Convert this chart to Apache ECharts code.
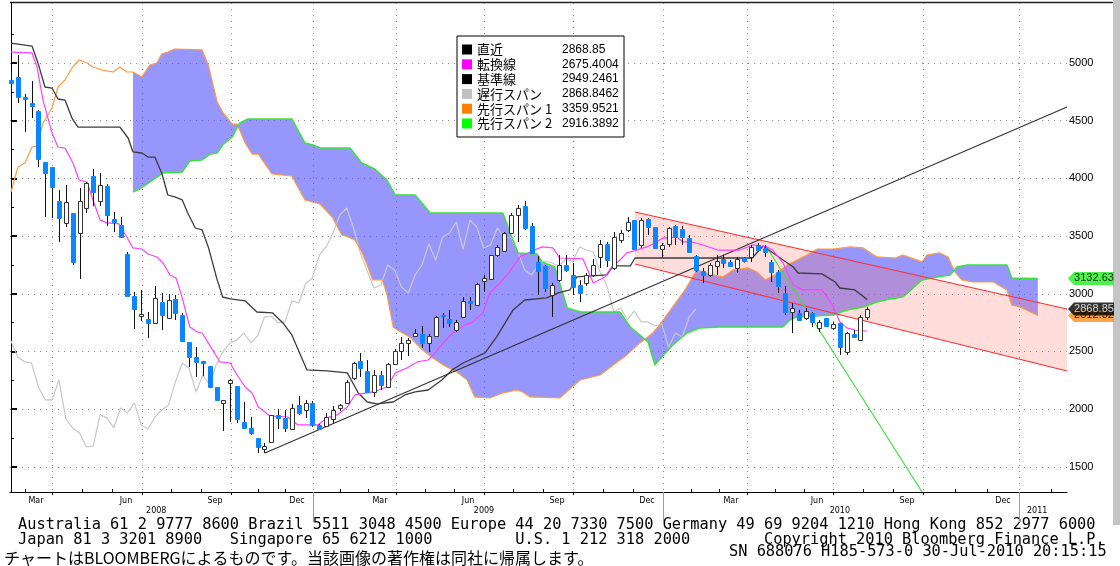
<!DOCTYPE html>
<html>
<head>
<meta charset="utf-8">
<script src="https://cdn.jsdelivr.net/npm/echarts@6/dist/echarts.min.js"></script>
<style>
  html, body { margin: 0; padding: 0; background: #fff; }
  #main { width: 1120px; height: 566px; }
</style>
</head>
<body>
<div id="main"></div>
<script>
// weekly bars, x = bar index, one bar per trading week (Feb 2008 - 30 Jul 2010)
// [open, close, low, high]
var candles = [
  [4853,4827,4749,4922],[4879,4705,4653,5069],[4705,4688,4402,4731],[4653,4627,4523,4844],
  [4584,4168,4099,4593],[4142,4047,3665,4142],[4099,3925,3657,4099],[3804,3657,3449,3899],
  [3613,3795,3579,3943],[3700,3276,3250,3700],[3527,3804,3128,3917],[3743,3960,3700,3969],
  [4021,3882,3761,4081],[3804,3943,3761,4047],[3934,3683,3587,3951],[3648,3622,3535,3709],
  [3596,3492,3483,3665],[3345,2981,2981,3362],[2981,2868,2695,3016],[2808,2825,2764,3033],
  [2782,2747,2617,2842],[2747,2964,2747,3068],[2929,2816,2686,3007],[2790,2946,2790,2998],
  [2955,2834,2773,2990],[2816,2591,2582,2834],[2582,2452,2366,2582],[2452,2409,2279,2539],
  [2418,2400,2288,2418],[2374,2192,2184,2374],[2192,2080,2071,2192],[2054,2080,1811,2080],
  [2227,2253,1889,2262],[2201,1915,1880,2201],[1889,1837,1837,2062],[1837,1794,1776,1932],
  [1750,1672,1620,1750],[1655,1681,1620,1707],[1716,1950,1716,1950],[1950,1924,1828,2002],
  [1924,1837,1802,1993],[1828,2010,1820,2045],[2036,1967,1950,2114],[1993,2054,1924,2080],
  [2054,1863,1846,2071],[1863,1828,1820,1872],[1854,1932,1846,1967],[1915,1993,1880,2028],
  [2010,2036,1984,2045],[2054,2236,2054,2253],[2270,2400,2253,2409],[2418,2357,2279,2487],
  [2331,2149,2140,2426],[2149,2296,2106,2340],[2296,2210,2166,2331],[2192,2392,2184,2400],
  [2392,2504,2383,2522],[2504,2574,2426,2626],[2574,2600,2461,2617],[2634,2660,2626,2695],
  [2652,2574,2530,2721],[2574,2634,2496,2652],[2634,2799,2634,2808],[2812,2805,2704,2834],
  [2782,2747,2712,2860],[2686,2756,2669,2773],[2799,2938,2799,2972],[2938,2920,2860,2972],
  [2903,3085,2894,3094],[3111,3137,3016,3163],[3128,3336,3128,3336],[3336,3406,3319,3423],
  [3371,3527,3362,3535],[3527,3683,3527,3700],[3683,3743,3449,3769],[3761,3570,3553,3804],
  [3587,3354,3354,3613],[3276,3198,2990,3328],[3241,3050,3016,3250],[2990,3076,2799,3094],
  [3120,3250,3102,3336],[3250,3206,3189,3336],[3163,3059,2990,3267],[3076,3007,2929,3120],
  [3094,3163,3068,3180],[3163,3250,3146,3302],[3319,3432,3224,3466],[3432,3293,3232,3449],
  [3224,3492,3206,3535],[3466,3527,3440,3553],[3553,3622,3535,3665],[3639,3388,3388,3639],
  [3423,3639,3397,3657],[3648,3579,3509,3657],[3579,3397,3397,3579],[3388,3423,3310,3440],
  [3432,3570,3406,3579],[3587,3492,3423,3596],[3560,3490,3423,3590],[3483,3362,3354,3509],
  [3328,3206,3189,3336],[3198,3163,3094,3224],[3163,3250,3146,3267],[3241,3284,3163,3336],
  [3301,3267,3224,3336],[3276,3241,3232,3293],[3224,3301,3180,3319],[3310,3280,3270,3315],
  [3319,3406,3276,3423],[3423,3379,3362,3440],[3397,3362,3319,3423],[3276,3189,3102,3293],
  [3189,3068,3007,3206],[3007,2842,2816,3068],[2842,2877,2660,2920],[2834,2773,2773,2860],
  [2790,2851,2773,2877],[2834,2756,2712,2842],[2704,2756,2669,2773],[2790,2721,2712,2790],
  [2704,2738,2686,2756],[2747,2539,2470,2747],[2496,2660,2470,2669],[2652,2626,2617,2686],
  [2600,2799,2600,2816],[2799,2868.85,2773,2886]
];

// [bar index, value]
var tenkan = [
  [0,5095],[3.07,5087],[3.8,4965],[4.67,4679],[5.99,4393],[6.86,4272],[7.88,4263],[9.05,4133],
  [9.93,3986],[11.1,3969],[11.97,3813],[12.99,3640],[14.0,3614],[15.8,3605],[16.9,3492],[17.8,3397],
  [19.1,3388],[20.0,3345],[21.3,3319],[22.2,3267],[23.2,3163],[24.1,3137],[25.0,2964],[26.1,2712],
  [27.2,2669],[27.9,2660],[28.8,2574],[30.5,2409],[32.0,2400],[33.0,2296],[34.2,2192],[35.2,2140],
  [36.1,2019],[37.8,1941],[40.4,1932],[41.9,1863],[44.8,1863],[46.1,1924],[47.6,1950],[49.1,2019],
  [50.2,2123],[52.8,2149],[54.9,2192],[56.1,2314],[57.8,2357],[59.3,2409],[60.9,2426],[61.9,2487],
  [63.1,2574],[64.5,2660],[66.0,2721],[67.4,2756],[68.9,2834],[69.9,3007],[71.4,3094],[72.8,3189],
  [74.3,3319],[75.8,3362],[77.5,3406],[79.1,3397],[80.1,3310],[83.5,3302],[85.0,3094],[86.7,3146],
  [87.7,3232],[88.9,3293],[89.9,3354],[91.4,3379],[92.8,3406],[94.0,3440],[95.2,3483],[97.2,3492],
  [98.1,3449],[99.4,3449],[101.0,3423],[103.2,3379],[106.4,3379],[108.3,3423],[110.4,3406],[111.2,3379],
  [112.7,3267],[114.2,3076],[115.6,3033],[118.4,3033],[119.9,2903],[121.0,2756],[122.0,2704],[123.2,2686],
  [125,2675.4]
];

var kijun = [
  [0,5173],[3.07,5147],[3.94,5000],[4.96,4792],[5.99,4783],[6.86,4688],[7.88,4679],[8.9,4523],
  [9.78,4445],[15.9,4445],[17.1,4350],[17.8,4229],[19.1,4220],[20.0,4185],[21.0,4185],[22.0,4047],
  [22.9,3856],[23.9,3839],[25.0,3813],[25.8,3700],[26.9,3570],[27.9,3553],[28.8,3406],[30.1,3120],
  [30.9,2972],[32.0,2955],[34.2,2938],[35.9,2842],[38.2,2834],[39.7,2747],[41.0,2643],[43.2,2340],
  [46.1,2331],[49.1,2314],[50.7,2140],[52.0,2062],[53.4,2045],[55.8,2062],[57.5,2123],[59.0,2149],
  [60.9,2166],[62.9,2253],[64.4,2340],[66.0,2400],[69.2,2487],[70.9,2626],[72.4,2773],[73.3,2860],
  [75.0,2946],[78.2,2964],[79.9,3007],[81.6,3033],[82.6,3146],[87.0,3163],[87.9,3241],[90.4,3241],
  [91.1,3310],[108.2,3310],[109.8,3414],[112.7,3293],[114.2,3232],[114.9,3180],[118.4,3172],[120.3,3102],
  [121.0,3050],[123.2,3033],[125,2949.25]
];

var spanA = [
  [0,3882],[1.02,4099],[2.04,4133],[3.07,4272],[3.8,4281],[4.67,4480],[5.99,4610],[6.86,4792],
  [7.88,4853],[8.9,4957],[9.93,5026],[11.1,5000],[11.97,4965],[13.3,4939],[14.9,4922],[15.9,4965],
  [16.9,4922],[17.8,4922],[19.1,4879],[20.3,4983],[21.3,5000],[22.0,5078],[22.9,5095],[23.9,5121],
  [27.9,5113],[28.8,4983],[30.1,4662],[30.9,4575],[32.3,4471],[33.0,4471],[34.2,4307],[35.2,4211],
  [36.1,4211],[38.1,4038],[41.0,4021],[42.9,3813],[45.1,3778],[46.9,3665],[48.3,3509],[49.2,3492],
  [50.2,3466],[51.2,3362],[52.0,3250],[52.8,3120],[54.2,3120],[54.9,2990],[55.8,2712],[56.4,2686],
  [58.2,2626],[60.1,2513],[61.6,2444],[63.1,2383],[65.1,2322],[66.6,2253],[67.7,2106],[69.9,2097],
  [71.8,2140],[73.9,2166],[74.7,2149],[75.8,2106],[80.1,2097],[83.1,2253],[86.0,2296],[88.5,2409],
  [89.9,2470],[91.8,2574],[93.7,2660],[94.7,2730],[96.6,2886],[98.4,3033],[100.1,3206],[102.5,3163],
  [103.9,3146],[105.4,3206],[107.6,3224],[108.9,3189],[110.1,3120],[111.5,3163],[113.3,3250],[116.2,3336],
  [117.7,3388],[120.0,3388],[122.5,3406],[124.4,3397],[126.4,3319],[129.1,3310],[130.2,3336],[133.0,3276],
  [133.7,3336],[135.6,3354],[136.8,3319],[137.8,3189],[138.8,3120],[140.4,3102],[143.4,3102],[145.4,3033],
  [146.1,2903],[147.3,2886],[149.9,2812.32]
];

var spanB = [
  [17.8,3882],[18.8,3908],[20.3,3969],[22.2,4047],[25.0,4055],[26.1,4151],[27.9,4160],[29.1,4211],
  [30.1,4220],[30.9,4289],[32.3,4359],[33.4,4480],[34.6,4515],[41.0,4515],[42.9,4307],[44.1,4289],
  [45.1,4263],[49.5,4263],[51.2,4133],[53.1,4081],[54.9,3986],[56.1,3856],[59.0,3856],[61.2,3700],
  [71.8,3700],[74.0,3354],[76.8,3345],[77.5,3276],[79.4,3232],[80.4,3033],[81.2,2877],[83.1,2842],
  [88.9,2842],[90.4,2712],[91.8,2643],[93.0,2582],[94.0,2383],[95.0,2452],[96.6,2556],[98.7,2660],
  [100.6,2704],[103.5,2712],[112.7,2712],[113.7,2773],[114.7,2799],[120.0,2816],[122.0,2860],[124.4,2886],
  [126.4,2929],[128.3,2955],[130.2,2972],[131.7,3050],[133.0,3120],[135.2,3146],[137.1,3163],[138.1,3232],
  [139.6,3250],[145.4,3250],[146.1,3137],[149.9,3132.63]
];

// drawn trend lines [bar index, value]
var supportLine = [[37.08,1620],[154.16,4619]];
var breakLine = [[110.2,3414],[133.0,1282]];
var channelTop = [[91.09,3709],[154.16,2868]];
var channelBottom = [[91.09,3258],[154.16,2331]];

var legendNames = ['直近','転換線','基準線','遅行スパン','先行スパン 1','先行スパン 2'];
var legendValues = ['2868.85','2675.4004','2949.2461','2868.8462','3359.9521','2916.3892'];
var legendColors = ['#000000','#ff00ff','#000000','#c0c0c0','#ff8000','#00ff00'];

var tags = [
  [154.16, 2812.32, '#ff8c1a', '#000'],
  [154.16, 2868.85, '#000000', '#fff'],
  [154.16, 3132.63, '#22ee22', '#000']
];

var yTicks = [1500,2000,2500,3000,3500,4000,4500,5000];
var yMinorTicks = [1750,2250,2750,3250,3750,4250,4750,5250];
var quarterTicks = [5.99,19.12,32.12,44.09,56.2,69.05,82.04,95.18,107.45,120.0,133.14,147.15];
var monthTicks = [2.04,10.37,14.75,23.45,27.79,36.11,40.1,48.13,52.16,60.48,64.77,73.38,77.71,
  86.42,90.8,99.27,103.36,111.63,115.82,124.38,128.76,137.81,142.48,151.8];
var monthPos = [3.65,16.79,29.78,41.75,53.87,66.72,79.71,92.85,105.11,117.66,130.8,144.82];
var monthNames = ['Mar','Jun','Sep','Dec','Mar','Jun','Sep','Dec','Mar','Jun','Sep','Dec'];
var yearPos = [21.2,69.05,121.0,149.8];
var yearNames = ['2008','2009','2010','2011'];
var yearDividers = [44.09,95.18,147.15];

var footer1 = 'Australia 61 2 9777 8600 Brazil 5511 3048 4500 Europe 44 20 7330 7500 Germany 49 69 9204 1210 Hong Kong 852 2977 6000';
var footer2 = 'Japan 81 3 3201 8900   Singapore 65 6212 1000         U.S. 1 212 318 2000        Copyright 2010 Bloomberg Finance L.P.';
var footer3 = 'SN 688076 H185-573-0 30-Jul-2010 20:15:15';
var footerJp = 'チャートはBLOOMBERGによるものです。当該画像の著作権は同社に帰属します。';

var X_MIN = -0.146, X_MAX = 154.16, Y_MIN = 1282, Y_MAX = 5520;

var candleData = candles.map(function (c, i) { return [i, c[0], c[1], c[2], c[3]]; });
// 遅行スパン: closes plotted 25 bars back
var chikou = candles.slice(25).map(function (c, i) { return [i, c[1]]; });

function pickLabel(pos, names) {
  return function (v) {
    for (var k = 0; k < pos.length; k++) {
      if (Math.abs(pos[k] - v) < 1e-6) return names[k];
    }
    return '';
  };
}

var dotted = { color: '#8c8c8c', width: 1, type: [1, 5] };

function lineSeries(name, data, color, width, z) {
  return {
    name: name, type: 'line', data: data, showSymbol: false, symbol: 'none',
    lineStyle: { color: color, width: width }, itemStyle: { color: color },
    z: z, animation: false, silent: true
  };
}

var myChart = echarts.init(document.getElementById('main'));

var option = {
  backgroundColor: '#fff',
  animation: false,
  grid: { left: 10, right: 53, top: 3, bottom: 74 },
  xAxis: [{
    type: 'value', position: 'bottom', min: X_MIN, max: X_MAX,
    axisLine: { show: true, lineStyle: { color: '#000', width: 1 } },
    axisTick: { show: true, length: 3, customValues: quarterTicks, lineStyle: { color: '#000' } },
    axisLabel: { show: true, customValues: monthPos, formatter: pickLabel(monthPos, monthNames),
      margin: 5, fontSize: 8, fontFamily: 'DejaVu Sans', color: '#000' },
    splitLine: { show: true, lineStyle: dotted }
  }, {
    type: 'value', position: 'bottom', offset: 0, min: X_MIN, max: X_MAX,
    axisLine: { show: false },
    axisTick: { show: true, inside: true, length: 3, customValues: monthTicks, lineStyle: { color: '#000' } },
    axisLabel: { show: false },
    splitLine: { show: false }
  }, {
    type: 'value', position: 'bottom', offset: 0, min: X_MIN, max: X_MAX,
    axisLine: { show: false },
    axisTick: { show: true, length: 30, customValues: yearDividers, lineStyle: { color: '#9a9a9a' } },
    axisLabel: { show: true, customValues: yearPos, formatter: pickLabel(yearPos, yearNames),
      margin: 15, fontSize: 8, fontFamily: 'DejaVu Sans', color: '#000' },
    splitLine: { show: false }
  }],
  yAxis: [{
    type: 'value', position: 'right', min: Y_MIN, max: Y_MAX, scale: true,
    axisLine: { show: true, lineStyle: { color: '#000', width: 1 } },
    axisTick: { show: true, length: 6, customValues: yTicks, lineStyle: { color: '#000', width: 2 } },
    axisLabel: { show: true, customValues: yTicks, formatter: function (v) { return String(v); },
      margin: 2, fontSize: 11, fontFamily: 'Liberation Sans', color: '#000' },
    splitLine: { show: true, lineStyle: dotted }
  }, {
    type: 'value', position: 'right', offset: 0, min: Y_MIN, max: Y_MAX, scale: true,
    axisLine: { show: false },
    axisTick: { show: true, length: 3, customValues: yMinorTicks, lineStyle: { color: '#000' } },
    axisLabel: { show: false },
    splitLine: { show: false }
  }],
  legend: {
    orient: 'vertical', left: 457, top: 36,
    backgroundColor: '#fff', borderColor: '#000', borderWidth: 1,
    padding: [7, 4, 7, 5], itemGap: 1.8, itemWidth: 10, itemHeight: 10,
    icon: 'rect', selectedMode: false,
    itemStyle: { borderWidth: 0 },
    data: legendNames.map(function (n, i) { return { name: n, itemStyle: { color: legendColors[i] } }; }),
    formatter: function (name) {
      return '{n|' + name + '}{v|' + legendValues[legendNames.indexOf(name)] + '}';
    },
    textStyle: {
      rich: {
        n: { fontFamily: 'Noto Sans CJK JP', fontSize: 13, width: 85, lineHeight: 14, color: '#000' },
        v: { fontFamily: 'Liberation Sans', fontSize: 12, width: 58, lineHeight: 14, color: '#000' }
      }
    }
  },
  series: [
    {
      name: 'cloud', type: 'custom', silent: true, z: 1,
      data: [[0, 3000]],
      renderItem: function (params, api) {
        var start = spanB[0][0];
        var pts = [];
        spanA.forEach(function (p) { if (p[0] >= start) pts.push(api.coord(p)); });
        for (var k = spanB.length - 1; k >= 0; k--) pts.push(api.coord(spanB[k]));
        return { type: 'polygon', shape: { points: pts }, style: { fill: 'rgba(80,80,250,0.6)' } };
      }
    },
    {
      name: 'channel', type: 'custom', silent: true, z: 2,
      data: [[100, 3000]],
      renderItem: function (params, api) {
        var pts = [api.coord(channelTop[0]), api.coord(channelTop[1]),
                   api.coord(channelBottom[1]), api.coord(channelBottom[0])];
        return { type: 'polygon', shape: { points: pts }, style: { fill: 'rgba(255,120,110,0.25)' } };
      }
    },
    lineSeries('遅行スパン', chikou, '#c8c8c8', 1.2, 3),
    lineSeries('先行スパン 1', spanA, '#ff9a40', 1.2, 3),
    lineSeries('先行スパン 2', spanB, '#3ee03e', 1.5, 3),
    lineSeries('channelTop', channelTop, '#ff3030', 1.2, 4),
    lineSeries('channelBottom', channelBottom, '#ff3030', 1.2, 4),
    lineSeries('supportLine', supportLine, '#333333', 1.2, 4),
    lineSeries('breakLine', breakLine, '#3ee03e', 1.2, 4),
    lineSeries('基準線', kijun, '#3c3c3c', 1.3, 4),
    lineSeries('転換線', tenkan, '#ff40ff', 1.2, 4),
    {
      name: '直近', type: 'custom', z: 5, silent: true,
      itemStyle: { color: '#000' },
      data: candleData,
      encode: { x: 0, y: [1, 2, 3, 4] },
      renderItem: function (params, api) {
        var i = api.value(0);
        var o = api.value(1), c = api.value(2), l = api.value(3), h = api.value(4);
        var pO = api.coord([i, o]), pC = api.coord([i, c]);
        var pL = api.coord([i, l]), pH = api.coord([i, h]);
        var cx = Math.round(pO[0]) + 0.5;
        var up = c >= o;
        var top = Math.round(Math.min(pO[1], pC[1])) + 0.5;
        var bot = Math.round(Math.max(pO[1], pC[1])) + 0.5;
        if (bot - top < 1) bot = top + 1;
        return {
          type: 'group',
          children: [{
            type: 'line',
            shape: { x1: cx, y1: pH[1], x2: cx, y2: pL[1] },
            style: { stroke: '#111', lineWidth: 1 }
          }, {
            type: 'rect',
            shape: { x: cx - 2, y: top, width: 4, height: bot - top },
            style: { fill: up ? '#ffffff' : '#0a86ff', stroke: up ? '#333' : '#0a86ff', lineWidth: 1 }
          }]
        };
      }
    },
    {
      name: 'tags', type: 'scatter', z: 6, silent: true, clip: false,
      symbol: 'path://M0,6L6,0L46,0L46,12L6,12Z',
      symbolSize: [46, 13], symbolOffset: [24, 0],
      data: tags.map(function (t) {
        return {
          value: [t[0], t[1]],
          itemStyle: { color: t[2] },
          label: { color: t[3] }
        };
      }),
      label: {
        show: true, position: 'inside', offset: [3, 0],
        fontFamily: 'Liberation Sans', fontSize: 11,
        formatter: function (p) { return p.value[1].toFixed(2); }
      }
    }
  ],
  graphic: [
    { type: 'line', silent: true, shape: { x1: 10, y1: 2.5, x2: 1113, y2: 2.5 },
      style: { stroke: '#222', lineWidth: 1.5 } },
    { type: 'rect', silent: true, shape: { x: 1113, y: 0, width: 7, height: 525 },
      style: { fill: '#c4c4c4' } },
    { type: 'text', silent: true, left: 18, top: 518,
      style: { text: footer1, font: '15.3px "DejaVu Sans Mono"', fill: '#000' } },
    { type: 'text', silent: true, left: 18, top: 533,
      style: { text: footer2, font: '15.3px "DejaVu Sans Mono"', fill: '#000' } },
    { type: 'text', silent: true, left: 729, top: 545,
      style: { text: footer3, font: '15.3px "DejaVu Sans Mono"', fill: '#000' } },
    { type: 'text', silent: true, left: 4, top: 550,
      style: { text: footerJp, font: '16px "Noto Sans CJK JP"', fill: '#000' } }
  ]
};

myChart.setOption(option);
</script>
</body>
</html>
